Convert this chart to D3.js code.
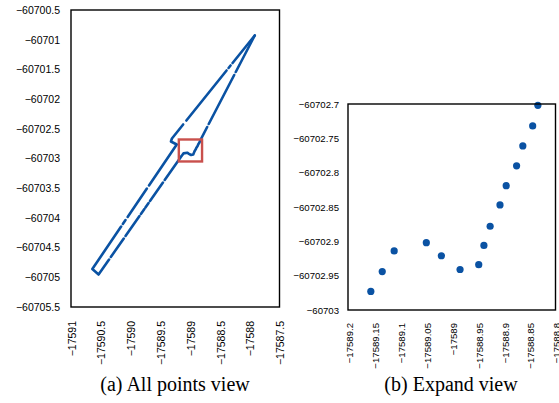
<!DOCTYPE html>
<html><head><meta charset="utf-8">
<script src="https://cdn.jsdelivr.net/npm/d3@7"></script>
<style>body{margin:0;background:#fff}svg{display:block}</style>
</head><body>
<svg id="c" width="559" height="403"></svg>
<script>
// ---- Data ----
const allXTicks = [-17591, -17590.5, -17590, -17589.5, -17589, -17588.5, -17588, -17587.5];
const allYTicks = [-60700.5, -60701, -60701.5, -60702, -60702.5, -60703, -60703.5, -60704, -60704.5, -60705, -60705.5];
const expXTicks = [-17589.2, -17589.15, -17589.1, -17589.05, -17589, -17588.95, -17588.9, -17588.85, -17588.8];
const expYTicks = [-60702.7, -60702.75, -60702.8, -60702.85, -60702.9, -60702.95, -60703];

// Expand view points
const expandX = [-17589.156, -17589.134, -17589.111, -17589.049, -17589.020, -17588.984, -17588.948, -17588.938, -17588.926, -17588.907, -17588.895, -17588.875, -17588.863, -17588.844, -17588.834];
const expandY = [-60702.973, -60702.944, -60702.914, -60702.902, -60702.921, -60702.941, -60702.934, -60702.906, -60702.878, -60702.847, -60702.819, -60702.790, -60702.761, -60702.732, -60702.702];

// All points track, read as runs of points (gaps between runs)
const trackRuns = [
  [[-17587.9157, -60700.9293], [-17588.2876, -60701.3923]],
  [[-17588.3212, -60701.4343], [-17588.3549, -60701.4764]],
  [[-17588.3885, -60701.5185], [-17589.0633, -60702.3603]],
  [[-17589.1171, -60702.4276], [-17589.3056, -60702.6633], [-17589.3224, -60702.7138], [-17589.2248, -60702.7643], [-17589.6909, -60703.4545]],
  [[-17589.7262, -60703.5051], [-17590.0493, -60703.9848]],
  [[-17590.0846, -60704.0354], [-17590.1301, -60704.1027]],
  [[-17590.1587, -60704.1448], [-17590.6416, -60704.8603], [-17590.5373, -60704.9529], [-17590.3611, -60704.7003]],
  [[-17590.3317, -60704.6582], [-17590.1144, -60704.3468]],
  [[-17590.0850, -60704.3047], [-17589.8501, -60703.9680]],
  [[-17589.8265, -60703.9343], [-17589.7678, -60703.8502]],
  [[-17589.7503, -60703.8249], [-17589.6975, -60703.7492]],
  [[-17589.6739, -60703.7155], [-17589.4565, -60703.4040]],
  "EXPAND",
  [[-17588.6879, -60702.4192], [-17588.2603, -60701.5943]],
  [[-17588.2342, -60701.5438], [-17587.9157, -60700.9293]]
];
const expandRunStart = [-17589.4272, -60703.3620];
const expandRunEnd = [-17588.7139, -60702.4697];
const boxX = [-17589.19, -17588.80];
const boxY = [-60702.68, -60703.05];

const captions = ["(a) All points view", "(b) Expand view"];

// ---- Drawing ----
const svg = d3.select("#c");
const blue = "#0a52a3";
const fmt = d3.format("");
const tickFont = "'Liberation Sans', Arial, sans-serif";

// Left panel
const L = {left: 71, right: 279.5, top: 10, bottom: 307};
const xA = d3.scaleLinear().domain([-17591, -17587.5]).range([L.left, L.right]);
const yA = d3.scaleLinear().domain([-60700.5, -60705.5]).range([L.top, L.bottom]);

const gA = svg.append("g");
gA.append("g").attr("transform", `translate(${L.left - 11},0)`)
  .call(d3.axisLeft(yA).tickValues(allYTicks).tickFormat(fmt).tickSize(0).tickPadding(0))
  .call(g => g.select(".domain").remove())
  .call(g => g.selectAll("text").attr("font-size", 10.5).attr("font-family", tickFont).attr("fill", "#000"));

gA.append("g").selectAll("text").data(allXTicks).join("text")
  .attr("transform", d => `translate(${xA(d) + 1},${L.bottom + 14}) rotate(-90)`)
  .attr("text-anchor", "end").attr("dy", "0.35em")
  .attr("font-size", 10.5).attr("font-family", tickFont)
  .text(d => fmt(d));

const line = d3.line().x(d => xA(d[0])).y(d => yA(d[1]));
const runs = trackRuns.map(r => r === "EXPAND"
  ? [expandRunStart, ...expandX.map((x, i) => [x, expandY[i]]), expandRunEnd]
  : r);
gA.append("g").selectAll("path").data(runs).join("path")
  .attr("d", line).attr("fill", "none").attr("stroke", blue)
  .attr("stroke-width", 2.6).attr("stroke-linecap", "round").attr("stroke-linejoin", "round");

gA.append("rect")
  .attr("x", xA(boxX[0])).attr("y", yA(boxY[0]))
  .attr("width", xA(boxX[1]) - xA(boxX[0])).attr("height", yA(boxY[1]) - yA(boxY[0]))
  .attr("fill", "none").attr("stroke", "#c9504c").attr("stroke-width", 2.4);

gA.append("rect").attr("x", L.left).attr("y", L.top)
  .attr("width", L.right - L.left).attr("height", L.bottom - L.top)
  .attr("fill", "none").attr("stroke", "#000").attr("stroke-width", 1.4);

// Right panel
const R = {left: 348, right: 555.5, top: 104, bottom: 310};
const xB = d3.scaleLinear().domain([-17589.2, -17588.8]).range([R.left, R.right]);
const yB = d3.scaleLinear().domain([-60702.7, -60703]).range([R.top, R.bottom]);

const gB = svg.append("g");
gB.append("g").attr("transform", `translate(${R.left - 9},0)`)
  .call(d3.axisLeft(yB).tickValues(expYTicks).tickFormat(fmt).tickSize(0).tickPadding(0))
  .call(g => g.select(".domain").remove())
  .call(g => g.selectAll("text").attr("font-size", 9.6).attr("font-family", tickFont).attr("fill", "#000"));

gB.append("g").selectAll("text").data(expXTicks).join("text")
  .attr("transform", d => `translate(${xB(d) + 1.5},${R.bottom + 13}) rotate(-90)`)
  .attr("text-anchor", "end").attr("dy", "0.35em")
  .attr("font-size", 9.6).attr("font-family", tickFont)
  .text(d => fmt(d));

gB.append("g").selectAll("circle").data(expandX).join("circle")
  .attr("cx", d => xB(d)).attr("cy", (d, i) => yB(expandY[i]))
  .attr("r", 3.6).attr("fill", blue);

gB.append("rect").attr("x", R.left).attr("y", R.top)
  .attr("width", R.right - R.left).attr("height", R.bottom - R.top)
  .attr("fill", "none").attr("stroke", "#000").attr("stroke-width", 1.4);

// Captions
svg.selectAll("text.cap").data(captions).join("text").attr("class", "cap")
  .attr("x", (d, i) => i === 0 ? 175 : 451).attr("y", 391)
  .attr("text-anchor", "middle")
  .attr("font-family", "'Liberation Serif', 'Times New Roman', serif")
  .attr("font-size", 20).text(d => d);
</script>
</body></html>
